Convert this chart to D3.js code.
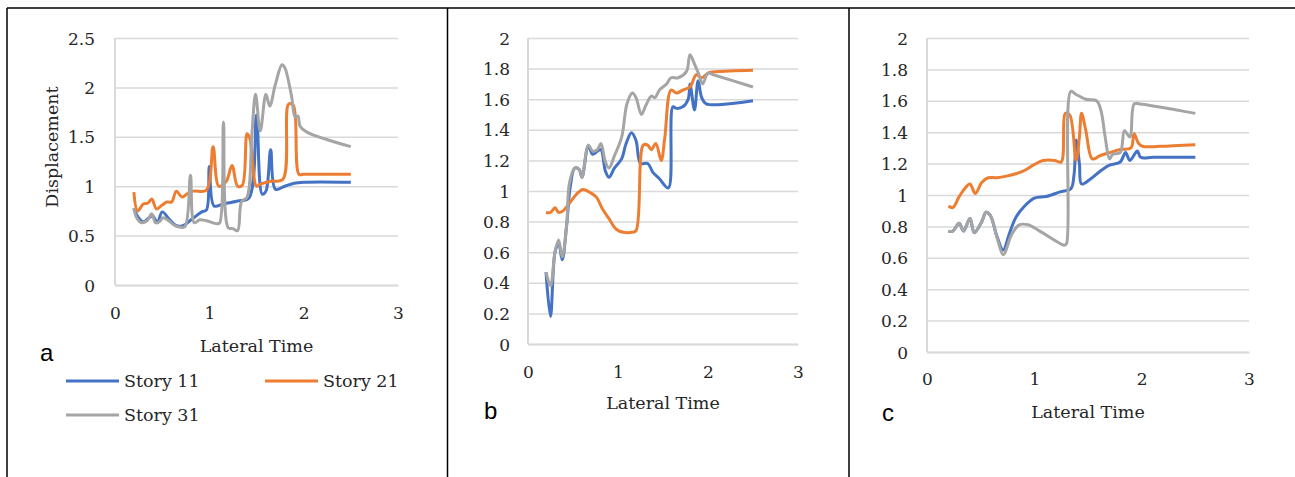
<!DOCTYPE html>
<html lang="en">
<head>
  <meta charset="utf-8">
  <title>Story displacement vs lateral time</title>
  <script src="https://d3js.org/d3.v7.min.js"></script>
  <style>
    body { margin: 0; background: #fff; }
    svg { display: block; }
    .tick text { font-family: "DejaVu Serif", serif; font-size: 17px; fill: #262626; }
    .title { font-family: "DejaVu Serif", serif; font-size: 17.5px; fill: #262626; }
    .panel-letter { font-family: "Liberation Sans", Arial, sans-serif; font-size: 24px; fill: #000; }
  </style>
</head>
<body>
<script>
  // x ticks are the same for all three panels
  var xTicks = [0, 1, 2, 3];
  var aYTicks = [0, 0.5, 1, 1.5, 2, 2.5];
  var bcYTicks = [0, 0.2, 0.4, 0.6, 0.8, 1, 1.2, 1.4, 1.6, 1.8, 2];
  var seriesNames = ["Story 11", "Story 21", "Story 31"];
  var seriesColors = ["#4472C4", "#ED7D31", "#A5A5A5"];

  // panel a
  var aS11x = [0.2,0.25,0.3,0.36,0.4,0.45,0.5,0.58,0.65,0.72,0.82,0.92,0.97,1.0,1.05,1.15,1.3,1.42,1.5,1.56,1.6,1.65,1.7,1.8,1.9,2.0,2.5];
  var aS11y = [0.77,0.68,0.64,0.68,0.7,0.63,0.74,0.66,0.6,0.6,0.67,0.74,0.76,1.2,0.8,0.82,0.85,0.88,1.72,0.92,0.95,1.37,0.97,1.0,1.03,1.04,1.04];
  var aS21x = [0.2,0.24,0.3,0.35,0.39,0.44,0.5,0.55,0.6,0.65,0.71,0.76,0.83,0.97,1.04,1.1,1.18,1.24,1.3,1.35,1.4,1.43,1.5,1.54,1.65,1.78,1.84,1.89,1.95,2.0,2.5];
  var aS21y = [0.94,0.75,0.82,0.83,0.87,0.77,0.81,0.84,0.84,0.95,0.89,0.92,0.95,0.96,1.4,1.0,1.05,1.21,1.0,1.01,1.53,1.48,1.0,1.02,1.05,1.07,1.83,1.82,1.12,1.12,1.12];
  var aS31x = [0.2,0.23,0.28,0.34,0.39,0.43,0.47,0.51,0.57,0.62,0.67,0.74,0.8,0.84,0.9,0.97,1.08,1.11,1.15,1.2,1.25,1.3,1.34,1.4,1.45,1.49,1.54,1.6,1.64,1.7,1.77,1.8,1.87,1.91,1.94,1.96,2.03,2.5];
  var aS31y = [0.78,0.68,0.63,0.65,0.72,0.63,0.64,0.68,0.65,0.61,0.59,0.59,1.11,0.63,0.66,0.65,0.62,0.63,1.65,0.58,0.57,0.55,0.84,0.89,1.51,1.93,1.56,1.93,1.81,2.03,2.23,2.2,1.92,1.7,1.71,1.61,1.55,1.4];

  // panel b
  var bS11x = [0.2,0.25,0.3,0.34,0.38,0.43,0.47,0.52,0.57,0.6,0.67,0.72,0.77,0.81,0.86,0.9,0.96,1.04,1.09,1.15,1.2,1.25,1.33,1.39,1.46,1.56,1.61,1.65,1.72,1.78,1.8,1.85,1.89,1.93,1.98,2.5];
  var bS11y = [0.47,0.18,0.6,0.66,0.55,0.78,1.03,1.15,1.14,1.09,1.29,1.24,1.26,1.27,1.13,1.09,1.15,1.21,1.31,1.38,1.33,1.18,1.18,1.12,1.08,1.02,1.55,1.54,1.55,1.6,1.7,1.53,1.72,1.61,1.57,1.59];
  var bS21x = [0.2,0.25,0.3,0.34,0.39,0.46,0.54,0.61,0.69,0.76,0.83,0.91,0.98,1.06,1.15,1.2,1.28,1.33,1.37,1.42,1.48,1.52,1.59,1.65,1.72,1.8,1.87,1.93,2.0,2.09,2.5];
  var bS21y = [0.86,0.86,0.89,0.86,0.87,0.92,0.98,1.01,0.99,0.96,0.88,0.81,0.75,0.73,0.73,0.74,1.3,1.3,1.27,1.31,1.2,1.35,1.66,1.64,1.66,1.68,1.76,1.74,1.77,1.78,1.79];
  var bS31x = [0.2,0.25,0.3,0.34,0.38,0.43,0.46,0.52,0.57,0.6,0.67,0.72,0.77,0.81,0.86,0.9,0.96,1.04,1.1,1.16,1.2,1.26,1.31,1.37,1.41,1.46,1.54,1.59,1.67,1.76,1.8,1.85,1.9,1.94,2.0,2.06,2.5];
  var bS31y = [0.47,0.38,0.6,0.68,0.57,0.78,1.05,1.15,1.14,1.09,1.3,1.26,1.27,1.31,1.19,1.15,1.23,1.35,1.57,1.64,1.61,1.5,1.56,1.62,1.61,1.66,1.7,1.74,1.74,1.78,1.89,1.83,1.76,1.7,1.77,1.76,1.68];

  // panel c
  var cS11x = [0.2,0.24,0.3,0.34,0.4,0.44,0.51,0.55,0.59,0.65,0.71,0.77,0.83,0.91,1.0,1.11,1.24,1.34,1.37,1.39,1.42,1.44,1.52,1.61,1.7,1.8,1.85,1.89,1.96,1.99,2.11,2.5];
  var cS11y = [0.77,0.77,0.82,0.77,0.85,0.76,0.83,0.89,0.87,0.74,0.65,0.76,0.86,0.93,0.98,0.99,1.02,1.04,1.13,1.35,1.2,1.07,1.1,1.15,1.19,1.21,1.27,1.22,1.28,1.24,1.24,1.24];
  var cS21x = [0.2,0.24,0.3,0.35,0.4,0.45,0.51,0.57,0.65,0.74,0.89,0.99,1.08,1.19,1.25,1.29,1.33,1.39,1.42,1.44,1.48,1.54,1.61,1.7,1.8,1.9,1.93,1.97,2.01,2.17,2.5];
  var cS21y = [0.93,0.92,0.99,1.04,1.07,1.01,1.08,1.11,1.11,1.12,1.15,1.19,1.22,1.22,1.21,1.52,1.51,1.22,1.37,1.52,1.41,1.23,1.25,1.27,1.29,1.3,1.39,1.33,1.31,1.31,1.32];
  var cS31x = [0.2,0.24,0.3,0.34,0.4,0.44,0.51,0.55,0.59,0.66,0.71,0.79,0.86,0.94,1.05,1.17,1.28,1.3,1.34,1.39,1.48,1.58,1.62,1.66,1.7,1.73,1.8,1.84,1.89,1.93,1.98,2.5];
  var cS31y = [0.77,0.77,0.82,0.77,0.85,0.76,0.83,0.89,0.87,0.71,0.62,0.75,0.81,0.81,0.77,0.72,0.68,0.69,1.66,1.64,1.61,1.6,1.54,1.37,1.23,1.26,1.27,1.41,1.37,1.58,1.58,1.52];

  var W = 1295, H = 477;
  var svg = d3.select("body").append("svg").attr("width", W).attr("height", H);

  // outer frame of the figure table
  var frame = svg.append("g").attr("stroke", "#000").attr("stroke-width", 1.5);
  frame.append("line").attr("x1", 7).attr("x2", W).attr("y1", 8).attr("y2", 8);
  [7, 447.5, 849].forEach(function(x) {
    frame.append("line").attr("x1", x).attr("x2", x).attr("y1", 8).attr("y2", H);
  });

  function zip(xs, ys) {
    return xs.map(function(x, i) { return [x, ys[i]]; });
  }

  function drawPanel(p) {
    var x = d3.scaleLinear().domain([0, 3]).range([p.x0, p.x1]);
    var y = d3.scaleLinear().domain([0, p.yMax]).range([p.y0, p.y1]);
    var g = svg.append("g");

    // y axis with gridlines
    var yAxis = g.append("g")
      .attr("transform", "translate(" + p.x0 + ",0)")
      .call(d3.axisLeft(y).tickValues(p.yTicks).tickFormat(d3.format("~g"))
        .tickSize(-(p.x1 - p.x0)).tickPadding(p.yPad));
    yAxis.select(".domain").remove();
    yAxis.selectAll(".tick line").attr("stroke", "#d9d9d9").attr("stroke-width", 1.5);
    yAxis.selectAll(".tick text").attr("dy", "0.36em");

    // x axis
    var xAxis = g.append("g")
      .attr("transform", "translate(0," + p.y0 + ")")
      .call(d3.axisBottom(x).tickValues(xTicks).tickFormat(d3.format("d")).tickSize(0));
    xAxis.select(".domain").attr("stroke", "#d9d9d9").attr("stroke-width", 2);
    xAxis.selectAll(".tick text").attr("y", p.xLabOff).attr("dy", 0);

    // vertical axis line
    g.append("line")
      .attr("x1", p.x0).attr("x2", p.x0).attr("y1", p.y1).attr("y2", p.y0)
      .attr("stroke", "#d9d9d9").attr("stroke-width", 2);

    var line = d3.line()
      .x(function(d) { return x(d[0]); })
      .y(function(d) { return y(d[1]); })
      .curve(d3.curveCatmullRom.alpha(0.5));

    g.selectAll(".series")
      .data(p.series)
      .enter().append("path")
      .attr("class", "series")
      .attr("fill", "none")
      .attr("stroke", function(d, i) { return seriesColors[i]; })
      .attr("stroke-width", 3)
      .attr("stroke-linejoin", "round")
      .attr("d", line);

    g.append("text").attr("class", "title")
      .attr("x", (p.x0 + p.x1) / 2).attr("y", p.titleY)
      .attr("text-anchor", "middle")
      .text("Lateral Time");

    g.append("text").attr("class", "panel-letter")
      .attr("x", p.letterX).attr("y", p.letterY)
      .text(p.letter);
  }

  drawPanel({
    x0: 115, x1: 398, y0: 285, y1: 38, yMax: 2.5, yTicks: aYTicks, yPad: 20,
    xLabOff: 34, titleY: 352, letter: "a", letterX: 40, letterY: 361,
    series: [zip(aS11x, aS11y), zip(aS21x, aS21y), zip(aS31x, aS31y)]
  });
  drawPanel({
    x0: 528, x1: 798, y0: 344, y1: 38, yMax: 2, yTicks: bcYTicks, yPad: 18,
    xLabOff: 34, titleY: 409, letter: "b", letterX: 484, letterY: 419,
    series: [zip(bS11x, bS11y), zip(bS21x, bS21y), zip(bS31x, bS31y)]
  });
  drawPanel({
    x0: 927, x1: 1249, y0: 352, y1: 38, yMax: 2, yTicks: bcYTicks, yPad: 19,
    xLabOff: 33, titleY: 418, letter: "c", letterX: 882, letterY: 421,
    series: [zip(cS11x, cS11y), zip(cS21x, cS21y), zip(cS31x, cS31y)]
  });

  // y-axis title of panel a
  svg.append("text").attr("class", "title")
    .attr("transform", "translate(58,147) rotate(-90)")
    .attr("text-anchor", "middle")
    .text("Displacement");

  // legend under panel a
  var legendPos = [[66, 381], [265, 381], [66, 415]];
  var legend = svg.selectAll(".legend")
    .data(seriesNames)
    .enter().append("g")
    .attr("class", "legend")
    .attr("transform", function(d, i) { return "translate(" + legendPos[i][0] + "," + legendPos[i][1] + ")"; });
  legend.append("line")
    .attr("x1", 0).attr("x2", 53)
    .attr("stroke", function(d, i) { return seriesColors[i]; })
    .attr("stroke-width", 3);
  legend.append("text").attr("class", "title")
    .attr("x", 58).attr("y", 6)
    .text(function(d) { return d; });
</script>
</body>
</html>
